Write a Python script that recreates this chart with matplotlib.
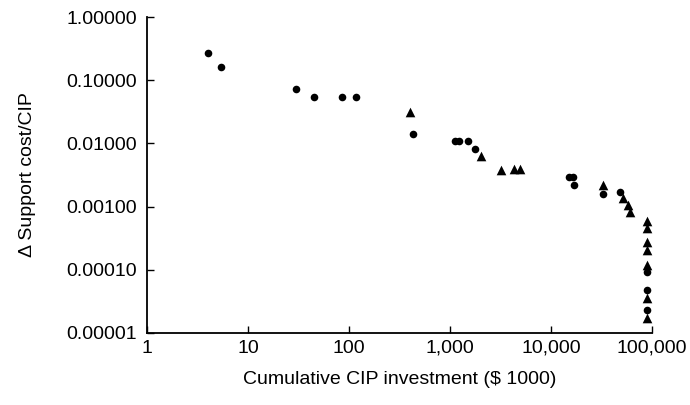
import matplotlib
matplotlib.use("Agg")
import matplotlib.pyplot as plt
from matplotlib.ticker import FixedLocator, FixedFormatter, NullLocator

plt.rcParams.update({
    "font.family": ["Liberation Sans", "DejaVu Sans"],
    "font.size": 14,
})

# Circle series (cumulative CIP investment, $1000 / delta support cost per CIP)
circle_x = [4.0, 5.4, 29.7, 44.7, 84.5, 116, 435, 1130, 1240, 1490, 1780,
            15100, 16600, 16900, 32800, 48300, 89300, 89300, 89300]
circle_y = [0.27, 0.162, 0.0726, 0.0542, 0.0542, 0.0542, 0.0141, 0.0109,
            0.0109, 0.0109, 0.00815, 0.00294, 0.00294, 0.0022, 0.00158,
            0.0017, 9.2e-5, 4.8e-5, 2.3e-5]

# Triangle series
tri_x = [406, 2040, 3220, 4330, 4960, 32800, 51700, 57900, 60700,
         89300, 89300, 89300, 89300, 89300, 89300, 89300]
tri_y = [0.0314, 0.00632, 0.0038, 0.00394, 0.00394, 0.0022, 0.00137,
         0.00106, 0.00082, 5.9e-4, 4.6e-4, 2.75e-4, 2.06e-4, 1.19e-4,
         3.6e-5, 1.73e-5]

x_ticks = [1, 10, 100, 1000, 10000, 100000]
x_labels = ["1", "10", "100", "1,000", "10,000", "100,000"]
y_ticks = [1e-5, 1e-4, 1e-3, 1e-2, 1e-1, 1.0]
y_labels = ["0.00001", "0.00010", "0.00100", "0.01000", "0.10000", "1.00000"]

fig = plt.figure(figsize=(6.9, 4.05), dpi=100)
ax = fig.add_axes([0.213, 0.178, 0.732, 0.780])

ax.scatter(circle_x, circle_y, s=30, marker="o", color="black",
           linewidths=0, clip_on=False, zorder=3)
ax.scatter(tri_x, tri_y, s=48, marker="^", color="black",
           linewidths=0, clip_on=False, zorder=3)

ax.set_xscale("log")
ax.set_yscale("log")
ax.set_xlim(1, 100000)
ax.set_ylim(1e-5, 1.0)

ax.xaxis.set_major_locator(FixedLocator(x_ticks))
ax.xaxis.set_major_formatter(FixedFormatter(x_labels))
ax.xaxis.set_minor_locator(NullLocator())
ax.yaxis.set_major_locator(FixedLocator(y_ticks))
ax.yaxis.set_major_formatter(FixedFormatter(y_labels))
ax.yaxis.set_minor_locator(NullLocator())

ax.spines["top"].set_visible(False)
ax.spines["right"].set_visible(False)
ax.spines["left"].set_linewidth(1.3)
ax.spines["bottom"].set_linewidth(1.3)
ax.tick_params(axis="both", direction="in", length=5, width=1.0,
               labelsize=14)
ax.tick_params(axis="y", pad=7)
ax.tick_params(axis="x", pad=5)

ax.set_xlabel("Cumulative CIP investment ($ 1000)", fontsize=14, labelpad=10)
ax.set_ylabel("Δ Support cost/CIP", fontsize=14, labelpad=22)

fig.savefig("out.png", dpi=100, facecolor="white")
